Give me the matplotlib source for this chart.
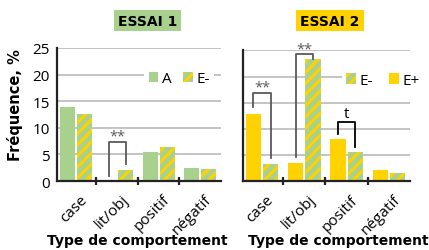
import matplotlib
matplotlib.use("Agg")
import matplotlib.pyplot as plt
import numpy as np
from matplotlib.transforms import ScaledTranslation

categories = ["case", "lit/obj", "positif", "négatif"]
essai1_A = [14.0, 0.0, 5.45, 2.4]
essai1_Em = [12.6, 2.1, 6.45, 2.2]
essai2_Ep = [12.9, 3.5, 8.0, 2.15]
essai2_Em = [3.3, 23.3, 5.5, 1.65]
yticks = [0, 5, 10, 15, 20, 25]

GREEN = "#A9D18E"
YELLOW = "#FFD200"
GRID = "#BFBFBF"
plt.rcParams["hatch.linewidth"] = 2.2
plt.rcParams["font.family"] = ["Open Sans", "DejaVu Sans"]
BOLD = ["DejaVu Sans"]

fig = plt.figure(figsize=(4.29, 2.51), dpi=100)
ax1 = fig.add_axes([57/429, 1-182/251, (221-57)/429, 133/251])
ax2 = fig.add_axes([243/429, 1-182.3/251, (410-243)/429, 131/251])

x = np.arange(len(categories))
w = 0.36
off = 0.205
FS = 11

def style(ax, show_y):
    ax.set_xlim(-0.45, 3.5)
    ax.set_ylim(0, 25)
    ax.set_yticks(yticks)
    ax.yaxis.grid(True, color=GRID, lw=1.3)
    ax.set_axisbelow(True)
    for s in ["top", "right"]:
        ax.spines[s].set_visible(False)
    for s in ["left", "bottom"]:
        ax.spines[s].set_color("#222222")
        ax.spines[s].set_linewidth(1.6)
    ax.tick_params(axis="y", length=0, pad=5, labelsize=11, labelleft=show_y)
    ax.set_xticks(x)
    ax.set_xticklabels(categories, rotation=45, ha="right", va="top",
                       rotation_mode="anchor", fontsize=FS)
    ax.tick_params(axis="x", which="major", length=0, pad=7.5)
    ax.set_xticks([0.5, 1.5, 2.5], minor=True)
    ax.tick_params(axis="x", which="minor", length=6, width=1.6,
                   direction="inout", color="#222222")
    for lab in ax.get_xticklabels():
        lab.set_transform(lab.get_transform() + ScaledTranslation(0.04, 0, fig.dpi_scale_trans))

# Panel 1
b1 = ax1.bar(x - off, essai1_A, w, color=GREEN, lw=0, label="A")
b2 = ax1.bar(x + off, essai1_Em, w, color=GREEN, edgecolor=YELLOW, hatch="///", lw=0, label="E-")
style(ax1, True)
leg1 = ax1.legend(ncol=2, loc="center left", bbox_to_anchor=(0.53, 0.77), frameon=True,
                  fontsize=FS, handlelength=0.65, handleheight=0.65, handletextpad=0.25,
                  columnspacing=0.7, borderpad=0.3, borderaxespad=0)
leg1.get_frame().set_edgecolor("none")
leg1.get_frame().set_facecolor("white")
leg1.get_frame().set_alpha(1)

# Panel 2
b3 = ax2.bar(x - off, essai2_Ep, w, color=YELLOW, lw=0, label="E+")
b4 = ax2.bar(x + off, essai2_Em, w, color=GREEN, edgecolor=YELLOW, hatch="///", lw=0, label="E-")
style(ax2, False)
leg2 = ax2.legend(handles=[b4, b3], labels=["E-", "E+"], ncol=2, loc="center left",
                  bbox_to_anchor=(0.59, 0.77), frameon=True,
                  fontsize=FS, handlelength=0.65, handleheight=0.65, handletextpad=0.25,
                  columnspacing=1.0, borderpad=0.3, borderaxespad=0)
leg2.get_frame().set_edgecolor("none")
leg2.get_frame().set_facecolor("white")
leg2.get_frame().set_alpha(1)

def bracket(ax, x0, x1, y0, y1, top, text, color, tsize, tdy):
    ax.plot([x0, x0, x1, x1], [y0, top, top, y1], color=color, lw=1.3, clip_on=False)
    ax.text((x0 + x1) / 2, top + tdy, text, ha="center", va="bottom", color=color,
            fontsize=tsize, clip_on=False)

bracket(ax1, 1 - off, 1 + off, 1.0, 3.2, 7.3, "**", "#595959", 10.5, -0.3)
bracket(ax2, 0 - off, 0 + off, 14.2, 4.4, 16.8, "**", "#595959", 10.5, -0.3)
bracket(ax2, 1 - off, 1 + off, 4.6, 23.3, 24.2, "**", "#595959", 10.5, -0.3)
bracket(ax2, 2 - off, 2 + off, 9.0, 6.5, 11.3, "t", "black", 11, 0.2)

fig.text(15/429, 1-105/251, "Fréquence, %", rotation=90, ha="center", va="center",
         fontsize=10.5, fontweight="bold", family=BOLD)
fig.text(137/429, 1-241/251, "Type de comportement", ha="center", va="center",
         fontsize=10, fontweight="bold", family=BOLD)
fig.text(338/429, 1-241/251, "Type de comportement", ha="center", va="center",
         fontsize=10, fontweight="bold", family=BOLD)
fig.text(147.5/429, 1-21.5/251, "ESSAI 1", ha="center", va="center", fontsize=10,
         fontweight="bold", family=BOLD,
         bbox=dict(boxstyle="square,pad=0.28", fc=GREEN, ec="none"))
fig.text(330/429, 1-21.5/251, "ESSAI 2", ha="center", va="center", fontsize=10,
         fontweight="bold", family=BOLD,
         bbox=dict(boxstyle="square,pad=0.28", fc=YELLOW, ec="none"))

fig.savefig("out.png", dpi=100)
